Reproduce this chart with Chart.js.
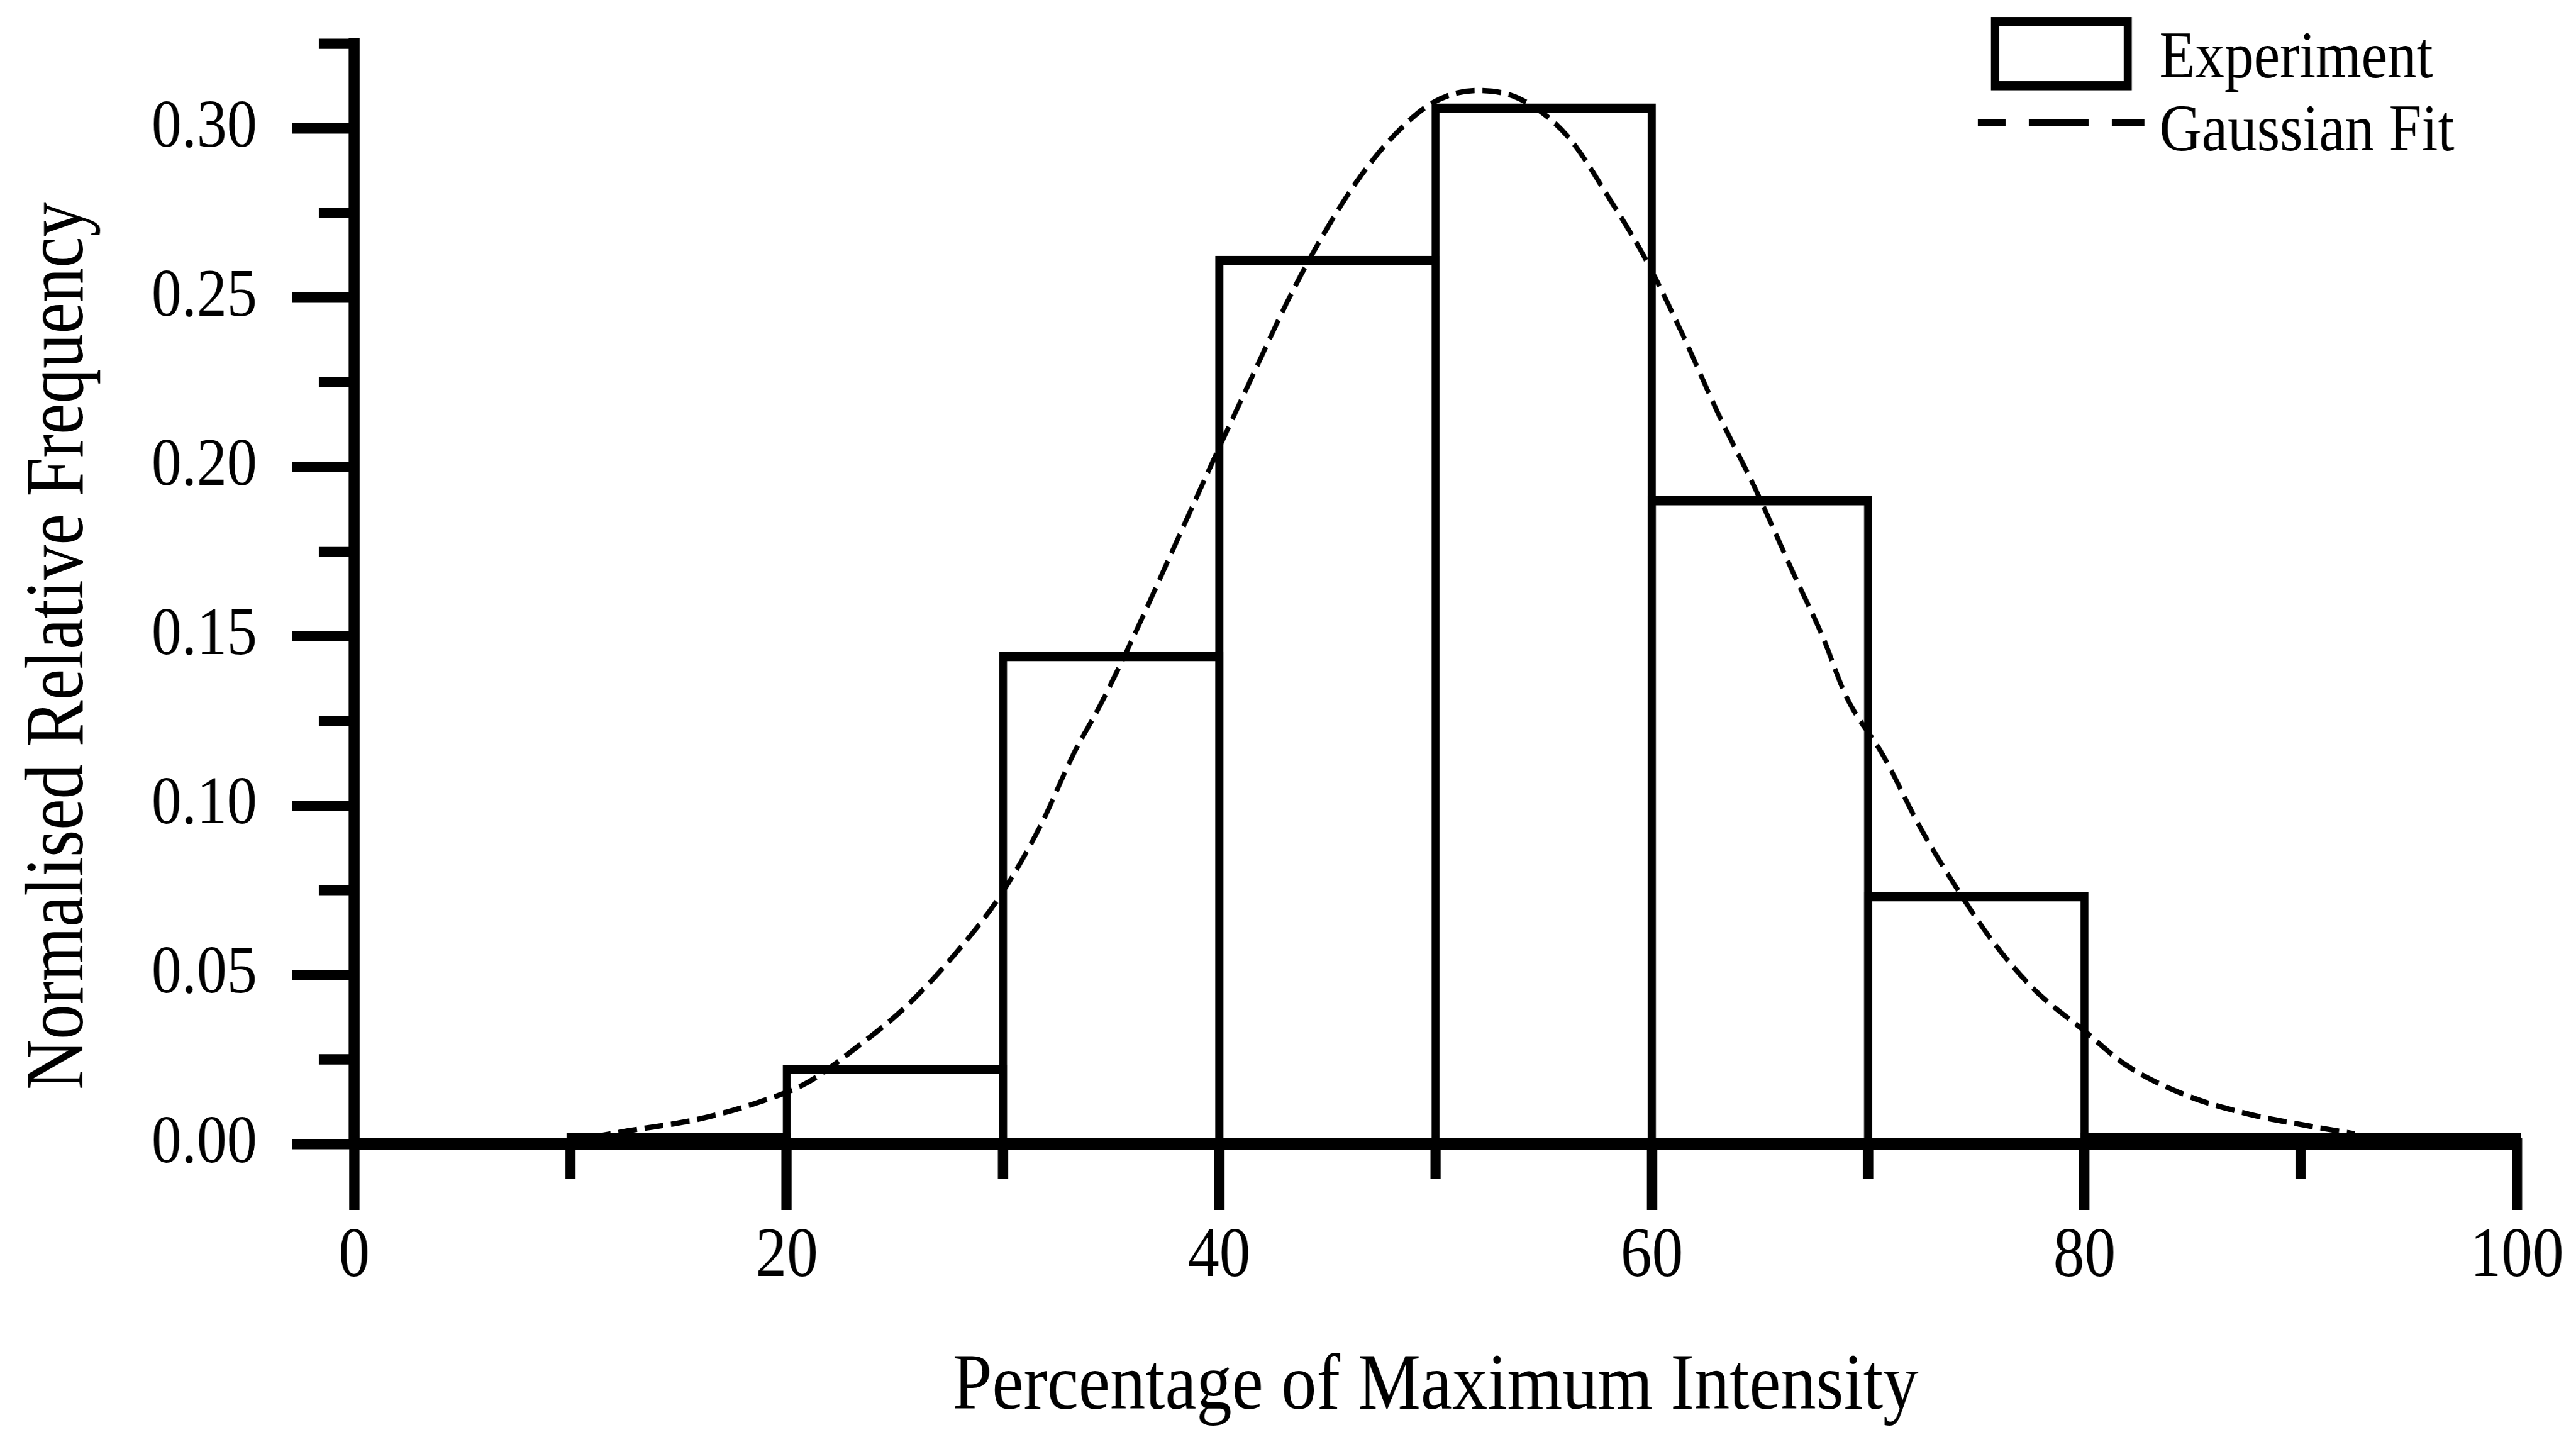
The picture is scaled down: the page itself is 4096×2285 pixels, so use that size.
<!DOCTYPE html>
<html>
<head>
<meta charset="utf-8">
<title>Normalised Relative Frequency</title>
<script src="https://cdn.jsdelivr.net/npm/chart.js@4.4.1/dist/chart.umd.min.js"></script>
<style>
  html, body { margin: 0; padding: 0; background: #fff; }
</style>
</head>
<body>
<!-- drawn wider than shown, then squeezed, so the Times-like text gets the narrow look of the original -->
<canvas id="chart" width="4655" height="2285" style="display:block;width:4096px;height:2285px"></canvas>
<script>
// Histogram bins, 10 % wide (bin centres)
const binCentres = [5, 15, 25, 35, 45, 55, 65, 75, 85, 95];
// Experiment: normalised relative frequency of each bin
const experiment = [0, 0.002, 0.022, 0.144, 0.261, 0.306, 0.190, 0.073, 0.002, 0.002];

// Gaussian fit, points
const fitX = [11, 12.6, 15.9, 18.7, 21.0, 23.2, 25.5, 27.7, 29.9, 31.7, 33.3, 34.5, 35.9, 38.1,
  39.8, 41.5, 43.2, 44.9, 46.5, 48.2, 49.9, 51.9, 53.9, 56.1, 58.1, 59.7, 61.4, 63.1, 64.8,
  66.5, 67.9, 69.0, 70.7, 72.4, 74.1, 75.8, 77.7, 80.0, 81.9, 84.7, 87.6, 90.4, 92.5];
const fitY = [0.002, 0.0038, 0.0073, 0.0123, 0.0183, 0.0284, 0.0405, 0.0555, 0.0736, 0.0936,
  0.1157, 0.1297, 0.148, 0.179, 0.203, 0.2264, 0.2495, 0.2696, 0.2856, 0.2987, 0.3077, 0.3112,
  0.3087, 0.2977, 0.2786, 0.2615, 0.2394, 0.2153, 0.1933, 0.1692, 0.1498, 0.132, 0.1147, 0.0936,
  0.0755, 0.0595, 0.0455, 0.0334, 0.0234, 0.0144, 0.0088, 0.0053, 0.003];

// Ticks that carry a label (the others are minor ticks)
const xLabelled = [0, 20, 40, 60, 80, 100];
const yLabelled = [0, 0.05, 0.10, 0.15, 0.20, 0.25, 0.30];

const xTitle = 'Percentage of Maximum Intensity';
const yTitle = 'Normalised Relative Frequency';

const SQUEEZE = 4096 / 4655;   // horizontal squeeze of the canvas
const serif = '"Liberation Serif", "Times New Roman", serif';

Chart.defaults.font.family = serif;
Chart.defaults.color = '#000';

function isXLabelled(v) {
  return xLabelled.includes(v);
}
function isYLabelled(v) {
  return yLabelled.some(t => Math.abs(t - v) < 1e-9);
}

// Minor ticks, the legend and the rotated y title
const extras = {
  id: 'extras',
  afterDraw(chart) {
    const ctx = chart.ctx;
    const x = chart.scales.x;
    const y = chart.scales.y;
    ctx.save();
    ctx.strokeStyle = '#000';
    ctx.fillStyle = '#000';

    // minor ticks
    ctx.lineWidth = 16.4;
    y.ticks.forEach(t => {
      if (isYLabelled(t.value)) return;
      const py = y.getPixelForValue(t.value);
      ctx.beginPath();
      ctx.moveTo(y.right - 64, py);
      ctx.lineTo(y.right, py);
      ctx.stroke();
    });
    ctx.lineWidth = 18.6;
    x.ticks.forEach(t => {
      if (isXLabelled(t.value)) return;
      const px = x.getPixelForValue(t.value);
      ctx.beginPath();
      ctx.moveTo(px, x.top);
      ctx.lineTo(px, x.top + 56);
      ctx.stroke();
    });

    // legend
    const sets = chart.data.datasets;
    ctx.lineWidth = 14.5;
    ctx.strokeRect(3605, 34.3, 240, 102);
    ctx.lineWidth = 11.6;
    ctx.setLineDash([108, 42]);
    ctx.lineDashOffset = 57.5;
    ctx.beginPath();
    ctx.moveTo(3574, 195);
    ctx.lineTo(3875, 195);
    ctx.stroke();
    ctx.setLineDash([]);
    ctx.font = '106px ' + serif;
    ctx.textAlign = 'left';
    ctx.textBaseline = 'alphabetic';
    ctx.fillText(sets[1].label, 3902, 122.7);
    ctx.fillText(sets[0].label, 3902, 238.6);

    // y title, kept at full height but condensed along its length
    ctx.translate(110, 1027);
    ctx.scale(1 / SQUEEZE, 1);
    ctx.rotate(-Math.PI / 2);
    ctx.font = '132px ' + serif;
    const along = 1412 / ctx.measureText(yTitle).width;
    ctx.scale(along, 1);
    ctx.textAlign = 'center';
    ctx.textBaseline = 'middle';
    ctx.fillText(yTitle, 0, 0);
    ctx.restore();
  }
};

new Chart(document.getElementById('chart'), {
  type: 'bar',
  data: {
    datasets: [
      {
        type: 'line',
        label: 'Gaussian Fit',
        data: fitX.map((v, i) => ({x: v, y: fitY[i]})),
        borderColor: '#000',
        borderWidth: 8.5,
        borderDash: [34, 14],
        pointRadius: 0,
        cubicInterpolationMode: 'monotone',
        fill: false,
        order: 0
      },
      {
        label: 'Experiment',
        data: binCentres.map((v, i) => ({x: v, y: experiment[i]})),
        backgroundColor: 'rgba(0,0,0,0)',
        borderColor: '#000',
        // a hair-thin border inflated on both sides gives an outline centred on the bar edge
        borderWidth: 0.01,
        inflateAmount: 7.25,
        barPercentage: 1,
        categoryPercentage: 1,
        clip: false,
        order: 1
      }
    ]
  },
  options: {
    responsive: false,
    animation: false,
    devicePixelRatio: 1,
    layout: {padding: {top: 69.6, right: 106.7, bottom: 0, left: 0}},
    plugins: {
      legend: {display: false},
      tooltip: {enabled: false}
    },
    scales: {
      x: {
        type: 'linear',
        min: 0,
        max: 100,
        offset: false,
        grid: {
          offset: false,
          drawOnChartArea: false,
          tickLength: 105,
          tickWidth: 18.6,
          lineWidth: 18.6,
          tickColor: c => isXLabelled(c.tick.value) ? '#000' : 'rgba(0,0,0,0)'
        },
        border: {color: '#000', width: 19},
        ticks: {
          stepSize: 10,
          autoSkip: false,
          maxRotation: 0,
          padding: 8,
          font: {size: 113},
          callback: v => isXLabelled(v) ? String(v) : ''
        },
        title: {
          display: true,
          text: xTitle,
          font: {size: 128},
          padding: {top: 0, bottom: 1.4}
        },
        afterFit: s => {
          s.height = 466;
          s.paddingLeft = 0;
          s.paddingRight = 0;
        }
      },
      y: {
        min: 0,
        max: 0.325,
        grid: {
          drawOnChartArea: false,
          tickLength: 112,
          tickWidth: 16.4,
          lineWidth: 16.4,
          tickColor: c => isYLabelled(c.tick.value) ? '#000' : 'rgba(0,0,0,0)'
        },
        border: {color: '#000', width: 19.8},
        ticks: {
          stepSize: 0.025,
          autoSkip: false,
          padding: 63.6,
          font: {size: 109},
          callback: v => isYLabelled(v) ? v.toFixed(2) : ''
        },
        title: {display: false},
        afterFit: s => {
          s.width = 640;
          s.paddingTop = 0;
          s.paddingBottom = 0;
        }
      }
    }
  },
  plugins: [extras]
});
</script>
</body>
</html>
